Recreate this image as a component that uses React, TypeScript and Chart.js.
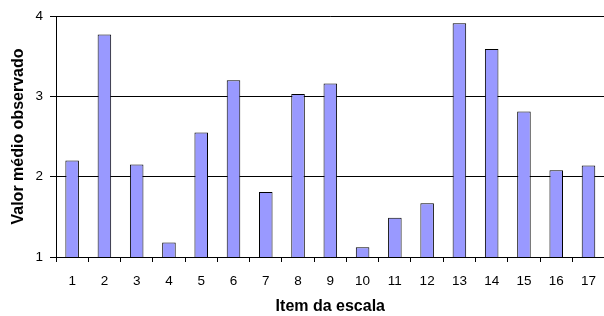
import React, { useEffect, useRef } from "react";
import { Chart, registerables } from "chart.js";

Chart.register(...registerables);

const categories = ["1","2","3","4","5","6","7","8","9","10","11","12","13","14","15","16","17"];
const values = [2.2, 3.77, 2.15, 1.18, 2.55, 3.2, 1.81, 3.03, 3.16, 1.12, 1.49, 1.67, 3.91, 3.59, 2.81, 2.08, 2.14];
const yTicks = [1, 2, 3, 4];

export default function App() {
  const ref = useRef<HTMLCanvasElement | null>(null);
  useEffect(() => {
    if (!ref.current) return;
    const family = "'Liberation Sans', Arial, sans-serif";
    const font = { family, size: 13.5 };
    const titleFont = { family, size: 16, weight: "bold" as const };
    const chart = new Chart(ref.current, {
      type: "bar",
      data: {
        labels: categories,
        datasets: [
          {
            data: values,
            backgroundColor: "#9999FF",
            borderColor: "#000000",
            borderWidth: 1,
            categoryPercentage: 1,
            barPercentage: 0.42,
          },
        ],
      },
      options: {
        responsive: false,
        animation: false,
        layout: { padding: { top: 16, right: 0, left: 0, bottom: 0 } },
        plugins: { legend: { display: false }, tooltip: { enabled: false } },
        scales: {
          x: {
            grid: { drawOnChartArea: false, drawTicks: true, tickLength: 5, color: "#000", offset: true },
            border: { color: "#000", width: 1 },
            ticks: { color: "#000", font, padding: 11, maxRotation: 0, autoSkip: false },
            title: {
              display: true,
              text: "Item da escala",
              color: "#000",
              font: titleFont,
              padding: { top: 0, bottom: 0 },
            },
            afterFit: (s: any) => { s.height = 59; },
          },
          y: {
            min: 1,
            max: 4,
            afterBuildTicks: (s: any) => { s.ticks = yTicks.map((v) => ({ value: v })); },
            grid: { color: "#000", tickLength: 6, drawTicks: true },
            border: { color: "#000", width: 1 },
            ticks: { color: "#000", font, padding: 7 },
            title: {
              display: true,
              text: "Valor médio observado",
              color: "#000",
              font: titleFont,
              padding: { top: 9.4, bottom: 0 },
            },
            afterFit: (s: any) => { s.width = 56; },
          },
        },
      },
    });
    return () => chart.destroy();
  }, []);
  return (
    <div style={{ position: "fixed", left: 0, top: 0, width: 604, height: 316, overflow: "hidden", background: "#fff" }}>
      <canvas ref={ref} width={607} height={316} style={{ display: "block" }} />
    </div>
  );
}
